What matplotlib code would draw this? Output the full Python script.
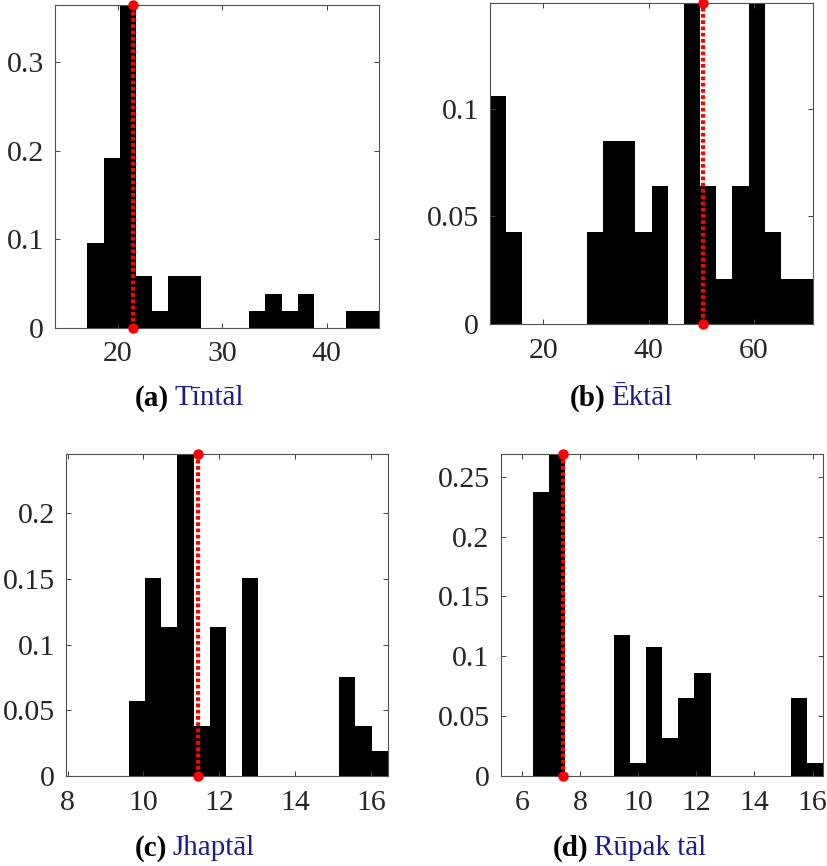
import matplotlib
matplotlib.use('Agg')
import matplotlib.pyplot as plt
import numpy as np

plt.rcParams['font.family'] = ['Liberation Serif', 'DejaVu Serif']

# (a) Tintal
a_heights = [0.096, 0.192, 0.365, 0.058, 0.019, 0.058, 0.058, 0, 0, 0,
             0.019, 0.038, 0.019, 0.038, 0, 0, 0.019, 0.019]
a_range = (17.1, 44.98)
a_xlim = (14, 45)
a_mark = 21.5
a_xticks = [20, 30, 40]
a_yticks = [0, 0.1, 0.2, 0.3]

# (b) Ektal
b_heights = [0.106, 0.043, 0, 0, 0, 0, 0.043, 0.085, 0.085, 0.043,
             0.064, 0, 0.149, 0.064, 0.021, 0.064, 0.149, 0.043, 0.021, 0.021]
b_range = (9.87, 71.25)
b_xlim = (9.87, 71.25)
b_mark = 50.4
b_xticks = [20, 40, 60]
b_yticks = [0, 0.05, 0.1]

# (c) Jhaptal
c_heights = [0.057, 0.151, 0.113, 0.245, 0.038, 0.113, 0, 0.151,
             0, 0, 0, 0, 0, 0.075, 0.038, 0.019]
c_range = (9.62, 16.44)
c_xlim = (7.96, 16.44)
c_mark = 11.44
c_xticks = [8, 10, 12, 14, 16]
c_yticks = [0, 0.05, 0.1, 0.15, 0.2]

# (d) Rupak tal
d_heights = [0.237, 0.269, 0, 0, 0, 0.118, 0.011, 0.108, 0.032, 0.065,
             0.086, 0, 0, 0, 0, 0, 0.065, 0.011]
d_range = (6.39, 16.37)
d_xlim = (5.27, 16.37)
d_mark = 7.41
d_xticks = [6, 8, 10, 12, 14, 16]
d_yticks = [0, 0.05, 0.1, 0.15, 0.2, 0.25]

labels = ['(a)', '(b)', '(c)', '(d)']
names = ['Tīntāl', 'Ēktāl', 'Jhaptāl', 'Rūpak tāl']

W, H = 827, 866
fig = plt.figure(figsize=(W / 100, H / 100), dpi=100)

# axes boxes in pixels: left, top, right, bottom
boxes = [(55, 5, 379, 327.5), (490, 3, 813.3, 324.2),
         (66, 454, 387.7, 776), (500.7, 454, 823.3, 776)]
# caption: left edge of bold label, centre y
caps = [(135, 398), (570, 398), (135, 848), (553, 848)]

panels = [
    (a_heights, a_range, a_xlim, a_mark, a_xticks, a_yticks),
    (b_heights, b_range, b_xlim, b_mark, b_xticks, b_yticks),
    (c_heights, c_range, c_xlim, c_mark, c_xticks, c_yticks),
    (d_heights, d_range, d_xlim, d_mark, d_xticks, d_yticks),
]

for i, (hts, rng, xl, mk, xt, yt) in enumerate(panels):
    l, t, r, b = boxes[i]
    ax = fig.add_axes([l / W, 1 - b / H, (r - l) / W, (b - t) / H])
    edges = np.linspace(rng[0], rng[1], len(hts) + 1)
    ax.stairs(hts, edges, fill=True, color='black', linewidth=0)
    ymax = max(hts)
    ax.plot([mk, mk], [0, ymax], color='red', linewidth=3,
            linestyle=(0, (0.9, 0.6)), marker='o', markersize=6.5,
            clip_on=False, zorder=5)
    ax.set_xlim(*xl)
    ax.set_ylim(0, ymax)
    ax.set_xticks(xt)
    ax.set_yticks(yt)
    ax.set_yticklabels(['%g' % v for v in yt])
    ax.tick_params(direction='in', length=3.5, width=0.7, top=True, right=True,
                   labelsize=21.5, labelcolor='#262626', color='#404040')
    ax.tick_params(axis='x', pad=10)
    ax.tick_params(axis='y', pad=8)
    for s in ax.spines.values():
        s.set_color('#505050')
        s.set_linewidth(0.8)

    cx, cy = caps[i]
    t1 = fig.text(cx / W, 1 - cy / H, labels[i], fontsize=21,
                  fontweight='bold', color='black', ha='left', va='center')
    ax.annotate(names[i], xy=(1, 0.5), xycoords=t1, xytext=(4, 0),
                textcoords='offset points', ha='left', va='center',
                fontsize=21, color='#1c1c8c', annotation_clip=False)

fig.savefig('out.png', dpi=100)
